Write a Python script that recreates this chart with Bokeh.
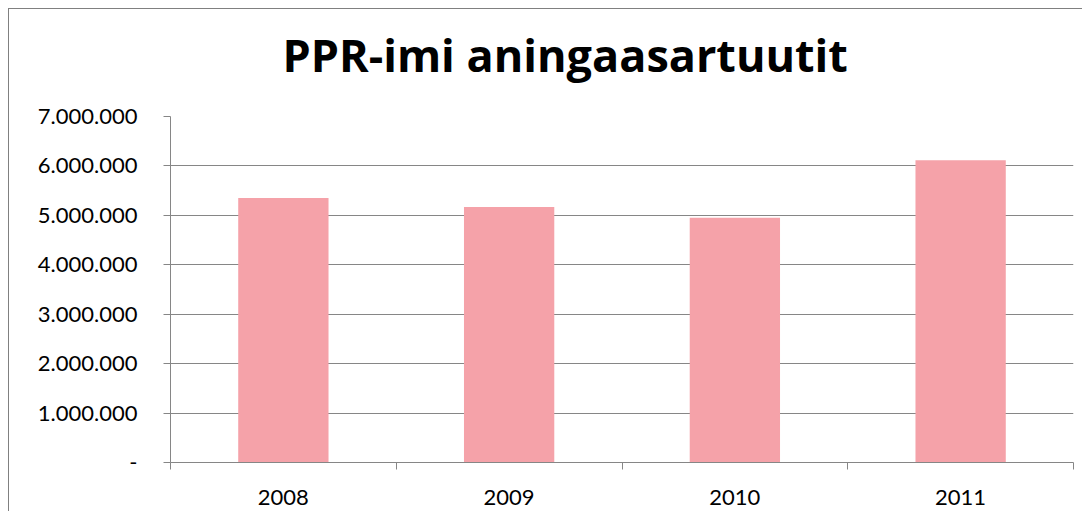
from bokeh.plotting import figure
from bokeh.models import Range1d, FixedTicker, ColumnDataSource, Title
from bokeh.embed import file_html
from bokeh.resources import INLINE

# ---- data ----
years = ["2008", "2009", "2010", "2011"]
values = [5350000, 5170000, 4950000, 6115000]
y_ticks = [0, 1000000, 2000000, 3000000, 4000000, 5000000, 6000000, 7000000]
y_tick_labels = ["-", "1.000.000", "2.000.000", "3.000.000", "4.000.000",
                 "5.000.000", "6.000.000", "7.000.000"]
title_text = "PPR-imi aningaasartuutit"

FONT = "Lato"
TITLE_FONT = "Open Sans"
GREY = "#868686"
BAR = "#F5A2A9"

x_pos = [i + 0.5 for i in range(len(years))]
src = ColumnDataSource(dict(x=x_pos, top=values, year=years))

p = figure(width=1074, height=503,
           x_range=Range1d(0, len(years)), y_range=Range1d(0, y_ticks[-1]),
           output_backend="svg", toolbar_location=None,
           min_border_left=161, min_border_right=10,
           min_border_top=107, min_border_bottom=50)
p.styles = {"margin-left": "8px", "margin-top": "8px",
            "border-left": "1px solid #808080", "border-top": "1px solid #808080"}
p.outline_line_color = None
p.background_fill_color = "white"
p.border_fill_color = "white"

p.vbar(x="x", top="top", width=0.4, source=src,
       fill_color=BAR, line_color=None)

# y axis
p.yaxis.ticker = FixedTicker(ticks=y_ticks)
p.yaxis.major_label_overrides = {t: l for t, l in zip(y_ticks, y_tick_labels)}
p.yaxis.major_label_text_font = FONT
p.yaxis.major_label_text_font_size = "22px"
p.yaxis.major_label_text_color = "black"
p.yaxis.major_tick_out = 7
p.yaxis.major_tick_in = 0
p.yaxis.minor_tick_line_color = None
p.yaxis.axis_line_color = GREY
p.yaxis.major_tick_line_color = GREY
p.yaxis.major_label_standoff = 26

# x axis: labels at centres, ticks at category boundaries
p.xaxis.ticker = FixedTicker(ticks=x_pos, minor_ticks=list(range(len(years) + 1)))
p.xaxis.major_label_overrides = {x: y for x, y in zip(x_pos, years)}
p.xaxis.major_label_text_font = FONT
p.xaxis.major_label_text_font_size = "22px"
p.xaxis.major_label_text_color = "black"
p.xaxis.major_tick_line_color = None
p.xaxis.major_tick_out = 0
p.xaxis.major_tick_in = 0
p.xaxis.minor_tick_out = 7
p.xaxis.minor_tick_in = 0
p.xaxis.minor_tick_line_color = GREY
p.xaxis.axis_line_color = GREY
p.xaxis.major_label_standoff = 20

p.ygrid.ticker = FixedTicker(ticks=y_ticks)
p.ygrid.grid_line_color = GREY
p.ygrid.grid_line_width = 1
p.xgrid.visible = False
p.ygrid.level = "underlay"

# spacer (closest to frame), then the title above it
p.add_layout(Title(text=" ", text_font_size="13px"), "above")
p.add_layout(Title(text=title_text, align="left", offset=112,
                   text_font=TITLE_FONT, text_font_size="45px",
                   text_font_style="bold", text_color="black"), "above")

open("out.html", "w").write(file_html(p, INLINE))
